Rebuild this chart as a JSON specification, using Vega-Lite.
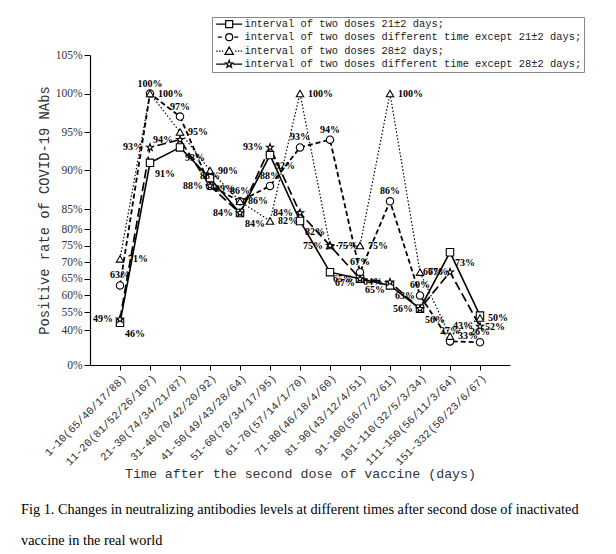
{
  "$schema": "https://vega.github.io/schema/vega-lite/v6.json",
  "autosize": {"type": "none"},
  "padding": {"left": 90, "top": 55, "right": 106, "bottom": 189},
  "width": 420,
  "height": 310,
  "background": "white",
  "config": {"view": {"stroke": null}},
  "title": {
    "text": ["Fig 1. Changes in neutralizing antibodies levels at different times after second dose of inactivated", "vaccine in the real world"],
    "orient": "bottom",
    "anchor": "start",
    "frame": "group",
    "dx": -69,
    "offset": 23,
    "font": "Liberation Serif",
    "fontSize": 14.3,
    "fontWeight": "normal",
    "color": "black",
    "lineHeight": 31,
    "baseline": "top"
  },
  "data": {"values": [
    {"t": "1-10(65/40/17/88)", "s": "interval of two doses 21±2 days;", "v": 0.46},
    {"t": "11-20(81/52/26/107)", "s": "interval of two doses 21±2 days;", "v": 0.91},
    {"t": "21-30(74/34/21/87)", "s": "interval of two doses 21±2 days;", "v": 0.93},
    {"t": "31-40(70/42/20/92)", "s": "interval of two doses 21±2 days;", "v": 0.89},
    {"t": "41-50(49/43/28/64)", "s": "interval of two doses 21±2 days;", "v": 0.84},
    {"t": "51-60(78/34/17/95)", "s": "interval of two doses 21±2 days;", "v": 0.92},
    {"t": "61-70(57/14/1/70)", "s": "interval of two doses 21±2 days;", "v": 0.82},
    {"t": "71-80(46/18/4/60)", "s": "interval of two doses 21±2 days;", "v": 0.67},
    {"t": "81-90(43/12/4/51)", "s": "interval of two doses 21±2 days;", "v": 0.65},
    {"t": "91-100(56/7/2/61)", "s": "interval of two doses 21±2 days;", "v": 0.63},
    {"t": "101-110(32/5/3/34)", "s": "interval of two doses 21±2 days;", "v": 0.56},
    {"t": "111-150(56/11/3/64)", "s": "interval of two doses 21±2 days;", "v": 0.73},
    {"t": "151-332(50/23/6/67)", "s": "interval of two doses 21±2 days;", "v": 0.52},
    {"t": "1-10(65/40/17/88)", "s": "interval of two doses different time except 21±2 days;", "v": 0.63},
    {"t": "11-20(81/52/26/107)", "s": "interval of two doses different time except 21±2 days;", "v": 1.0},
    {"t": "21-30(74/34/21/87)", "s": "interval of two doses different time except 21±2 days;", "v": 0.97},
    {"t": "31-40(70/42/20/92)", "s": "interval of two doses different time except 21±2 days;", "v": 0.88},
    {"t": "41-50(49/43/28/64)", "s": "interval of two doses different time except 21±2 days;", "v": 0.86},
    {"t": "51-60(78/34/17/95)", "s": "interval of two doses different time except 21±2 days;", "v": 0.88},
    {"t": "61-70(57/14/1/70)", "s": "interval of two doses different time except 21±2 days;", "v": 0.93},
    {"t": "71-80(46/18/4/60)", "s": "interval of two doses different time except 21±2 days;", "v": 0.94},
    {"t": "81-90(43/12/4/51)", "s": "interval of two doses different time except 21±2 days;", "v": 0.67},
    {"t": "91-100(56/7/2/61)", "s": "interval of two doses different time except 21±2 days;", "v": 0.86},
    {"t": "101-110(32/5/3/34)", "s": "interval of two doses different time except 21±2 days;", "v": 0.60},
    {"t": "111-150(56/11/3/64)", "s": "interval of two doses different time except 21±2 days;", "v": 0.27},
    {"t": "151-332(50/23/6/67)", "s": "interval of two doses different time except 21±2 days;", "v": 0.26},
    {"t": "1-10(65/40/17/88)", "s": "interval of two doses 28±2 days;", "v": 0.71},
    {"t": "11-20(81/52/26/107)", "s": "interval of two doses 28±2 days;", "v": 1.0},
    {"t": "21-30(74/34/21/87)", "s": "interval of two doses 28±2 days;", "v": 0.95},
    {"t": "31-40(70/42/20/92)", "s": "interval of two doses 28±2 days;", "v": 0.90},
    {"t": "41-50(49/43/28/64)", "s": "interval of two doses 28±2 days;", "v": 0.86},
    {"t": "51-60(78/34/17/95)", "s": "interval of two doses 28±2 days;", "v": 0.82},
    {"t": "61-70(57/14/1/70)", "s": "interval of two doses 28±2 days;", "v": 1.0},
    {"t": "71-80(46/18/4/60)", "s": "interval of two doses 28±2 days;", "v": 0.75},
    {"t": "81-90(43/12/4/51)", "s": "interval of two doses 28±2 days;", "v": 0.75},
    {"t": "91-100(56/7/2/61)", "s": "interval of two doses 28±2 days;", "v": 1.0},
    {"t": "101-110(32/5/3/34)", "s": "interval of two doses 28±2 days;", "v": 0.67},
    {"t": "111-150(56/11/3/64)", "s": "interval of two doses 28±2 days;", "v": 0.33},
    {"t": "151-332(50/23/6/67)", "s": "interval of two doses 28±2 days;", "v": 0.50},
    {"t": "1-10(65/40/17/88)", "s": "interval of two doses different time except 28±2 days;", "v": 0.49},
    {"t": "11-20(81/52/26/107)", "s": "interval of two doses different time except 28±2 days;", "v": 0.93},
    {"t": "21-30(74/34/21/87)", "s": "interval of two doses different time except 28±2 days;", "v": 0.94},
    {"t": "31-40(70/42/20/92)", "s": "interval of two doses different time except 28±2 days;", "v": 0.88},
    {"t": "41-50(49/43/28/64)", "s": "interval of two doses different time except 28±2 days;", "v": 0.84},
    {"t": "51-60(78/34/17/95)", "s": "interval of two doses different time except 28±2 days;", "v": 0.93},
    {"t": "61-70(57/14/1/70)", "s": "interval of two doses different time except 28±2 days;", "v": 0.84},
    {"t": "71-80(46/18/4/60)", "s": "interval of two doses different time except 28±2 days;", "v": 0.75},
    {"t": "81-90(43/12/4/51)", "s": "interval of two doses different time except 28±2 days;", "v": 0.65},
    {"t": "91-100(56/7/2/61)", "s": "interval of two doses different time except 28±2 days;", "v": 0.64},
    {"t": "101-110(32/5/3/34)", "s": "interval of two doses different time except 28±2 days;", "v": 0.56},
    {"t": "111-150(56/11/3/64)", "s": "interval of two doses different time except 28±2 days;", "v": 0.67},
    {"t": "151-332(50/23/6/67)", "s": "interval of two doses different time except 28±2 days;", "v": 0.43}
  ]},
  "resolve": {"scale": {"shape": "independent"}, "legend": {"shape": "independent"}},
  "encoding": {
    "x": {
      "field": "t", "type": "ordinal", "sort": null,
      "scale": {"type": "point", "padding": 1},
      "axis": {
        "title": "Time after the second dose of vaccine (days)",
        "titleFont": "Liberation Mono", "titleFontSize": 13.3, "titleFontWeight": "normal", "titleColor": "#333",
        "titlePadding": 0,
        "labelAngle": -45, "labelFont": "Liberation Mono", "labelFontSize": 10.8, "labelColor": "#333",
        "labelPadding": 2,
        "tickSize": 5, "tickColor": "black", "domainColor": "black", "domainWidth": 1.2, "grid": false
      }
    },
    "y": {
      "field": "v", "type": "quantitative",
      "scale": {"type": "linear", "domain": [0, 0.4, 0.55, 0.8, 0.85, 1.05], "range": [310, 275, 257, 174, 154, 0], "zero": false, "nice": false},
      "axis": {
        "title": "Positive rate of COVID-19 NAbs",
        "titleFont": "Liberation Mono", "titleFontSize": 13.8, "titleFontWeight": "normal", "titleColor": "#333",
        "titlePadding": 4,
        "values": [0, 0.4, 0.55, 0.6, 0.65, 0.7, 0.75, 0.8, 0.85, 0.9, 0.95, 1.0, 1.05],
        "format": ".0%", "labelOverlap": false,
        "labelFont": "Liberation Serif", "labelFontSize": 11.5, "labelColor": "#333",
        "tickSize": 6, "tickColor": "black", "domainColor": "black", "domainWidth": 1.2, "grid": false
      }
    }
  },
  "layer": [
    {
      "transform": [{"filter": "datum.s === 'interval of two doses 21±2 days;'"}],
      "mark": {"type": "line", "color": "black", "strokeWidth": 1.6},
      "encoding": {}
    },
    {
      "transform": [{"filter": "datum.s === 'interval of two doses different time except 21±2 days;'"}],
      "mark": {"type": "line", "color": "black", "strokeWidth": 1.8, "strokeDash": [5, 3]},
      "encoding": {}
    },
    {
      "transform": [{"filter": "datum.s === 'interval of two doses 28±2 days;'"}],
      "mark": {"type": "line", "color": "black", "strokeWidth": 1.2, "strokeDash": [1.5, 2]},
      "encoding": {}
    },
    {
      "transform": [{"filter": "datum.s === 'interval of two doses different time except 28±2 days;'"}],
      "mark": {"type": "line", "color": "black", "strokeWidth": 1.7, "strokeDash": [9, 4]},
      "encoding": {}
    },
    {
      "mark": {"type": "point", "filled": true, "fill": "white", "stroke": "black", "strokeWidth": 1.1, "size": 55, "opacity": 1},
      "encoding": {
        "shape": {
          "field": "s", "type": "nominal", "legend": null,
          "scale": {
            "domain": ["interval of two doses 21±2 days;", "interval of two doses different time except 21±2 days;", "interval of two doses 28±2 days;", "interval of two doses different time except 28±2 days;"],
            "range": ["square", "circle", "triangle-up", "M0,-1L0.235,-0.324L0.951,-0.309L0.38,0.124L0.588,0.809L0,0.4L-0.588,0.809L-0.38,0.124L-0.951,-0.309L-0.235,-0.324Z"]
          }
        }
      }
    },
    {
      "mark": {"type": "point", "filled": false, "color": "black", "strokeWidth": 1.2, "size": 49, "opacity": 0},
      "encoding": {
        "shape": {
          "field": "s", "type": "nominal",
          "scale": {
            "domain": ["interval of two doses 21±2 days;", "interval of two doses different time except 21±2 days;", "interval of two doses 28±2 days;", "interval of two doses different time except 28±2 days;"],
            "range": [
              "M-3.7,0H-1M1,0H3.7M-1,-1H1V1H-1Z",
              "M-3.3,0H-2.1M1,0A1,1,0,1,1,-1,0A1,1,0,1,1,1,0ZM1.4,0H2.6",
              "M-3.7,0H-3.3M-2.9,0H-2.5M-2.1,0H-1.7M0,-1.2L1.2,0.9L-1.2,0.9ZM1.7,0H2.1M2.5,0H2.9M3.3,0H3.7",
              "M-3.7,0H-1.1M1.1,0H3.7M0,-1.1L0.26,-0.36L1.05,-0.34L0.42,0.14L0.65,0.89L0,0.44L-0.65,0.89L-0.42,0.14L-1.05,-0.34L-0.26,-0.36Z"
            ]
          },
          "legend": {
            "orient": "none", "legendX": 122, "legendY": -38,
            "title": null, "strokeColor": "#888", "padding": 2,
            "labelFont": "Liberation Mono", "labelFontSize": 10.4, "labelColor": "#222",
            "symbolSize": 49, "symbolOffset": 10, "labelOffset": 10, "rowPadding": 0,
            "symbolOpacity": 1, "symbolStrokeColor": "black", "symbolFillColor": "transparent", "symbolStrokeWidth": 1.2,
            "labelLimit": 500
          }
        }
      }
    },
    {
      "transform": [{"filter": "datum.s === 'interval of two doses 21±2 days;'"}],
      "mark": {"type": "text", "align": "left", "dx": 5, "dy": 11, "font": "Liberation Serif", "fontSize": 10, "fontWeight": "bold", "color": "black"},
      "encoding": {"text": {"field": "v", "type": "quantitative", "format": ".0%"}}
    },
    {
      "transform": [{"filter": "datum.s === 'interval of two doses different time except 21±2 days;'"}],
      "mark": {"type": "text", "align": "center", "dx": 0, "dy": -10, "font": "Liberation Serif", "fontSize": 10, "fontWeight": "bold", "color": "black"},
      "encoding": {"text": {"field": "v", "type": "quantitative", "format": ".0%"}}
    },
    {
      "transform": [{"filter": "datum.s === 'interval of two doses 28±2 days;'"}],
      "mark": {"type": "text", "align": "left", "dx": 8, "dy": 0, "font": "Liberation Serif", "fontSize": 10, "fontWeight": "bold", "color": "black"},
      "encoding": {"text": {"field": "v", "type": "quantitative", "format": ".0%"}}
    },
    {
      "transform": [{"filter": "datum.s === 'interval of two doses different time except 28±2 days;'"}],
      "mark": {"type": "text", "align": "right", "dx": -7, "dy": 0, "font": "Liberation Serif", "fontSize": 10, "fontWeight": "bold", "color": "black"},
      "encoding": {"text": {"field": "v", "type": "quantitative", "format": ".0%"}}
    }
  ]
}
